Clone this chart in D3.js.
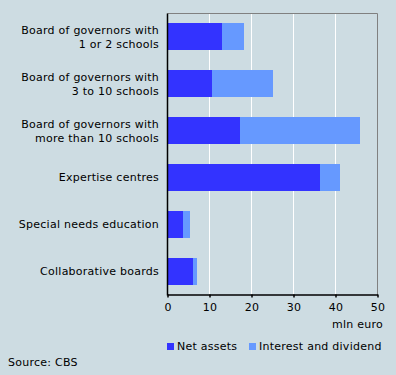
<!DOCTYPE html>
<html>
<head>
<meta charset="utf-8">
<script src="https://cdn.jsdelivr.net/npm/d3@7"></script>
<style>
  body { margin: 0; background: #cddce2; }
  svg { display: block; font-family: "DejaVu Sans", Verdana, sans-serif; }
  svg text { letter-spacing: 0.25px; }
</style>
</head>
<body>
<div id="chart"></div>
<script>
// data
const categories = [
  ['Board of governors with', '1 or 2 schools'],
  ['Board of governors with', '3 to 10 schools'],
  ['Board of governors with', 'more than 10 schools'],
  ['Expertise centres'],
  ['Special needs education'],
  ['Collaborative boards']
];
const netAssets = [13.0, 10.6, 17.3, 36.4, 3.7, 6.1];
const interestDividend = [5.3, 14.6, 28.6, 4.7, 1.7, 1.0];
const seriesNames = ['Net assets', 'Interest and dividend'];
const xTicks = [0, 10, 20, 30, 40, 50];

const colors = ['#3333ff', '#6699ff'];
const W = 396, H = 375;
const plot = { left: 167.5, right: 377.5, top: 13.5, bottom: 294.5 };

const svg = d3.select('#chart').append('svg')
  .attr('width', W).attr('height', H);

svg.append('rect').attr('width', W).attr('height', H).attr('fill', '#cddce2');

const x = d3.scaleLinear().domain([0, 50]).range([plot.left, plot.right]);
const y = d3.scaleBand().domain(d3.range(categories.length))
  .range([plot.top, plot.bottom]).paddingInner(0.42).paddingOuter(0.21);

// grid
svg.append('g').selectAll('line')
  .data(xTicks.slice(1, -1))
  .enter().append('line')
  .attr('x1', d => x(d)).attr('x2', d => x(d))
  .attr('y1', plot.top).attr('y2', plot.bottom)
  .attr('stroke', '#fff').attr('stroke-width', 1);

// frame top/right
svg.append('path')
  .attr('d', `M${plot.left},${plot.top}H${plot.right}V${plot.bottom}`)
  .attr('fill', 'none').attr('stroke', '#808080');

// stacked bars
const rows = categories.map((c, i) => ({ i, net: netAssets[i], inter: interestDividend[i] }));
const stack = d3.stack().keys(['net', 'inter'])(rows);
svg.append('g').selectAll('g')
  .data(stack)
  .enter().append('g')
  .attr('fill', (d, k) => colors[k])
  .selectAll('rect')
  .data(d => d)
  .enter().append('rect')
  .attr('x', d => x(d[0]))
  .attr('width', d => x(d[1]) - x(d[0]))
  .attr('y', d => y(d.data.i))
  .attr('height', y.bandwidth())
  .attr('shape-rendering', 'crispEdges');

// bottom axis
const xAxis = svg.append('g')
  .attr('transform', `translate(0,${plot.bottom})`)
  .call(d3.axisBottom(x).tickValues(xTicks).tickSize(3).tickSizeOuter(0).tickPadding(6));
xAxis.select('.domain').attr('stroke', '#000').attr('stroke-width', 1.5);
xAxis.selectAll('.tick line').attr('stroke', '#000').attr('stroke-width', 1.5);
xAxis.selectAll('text').attr('font-size', 11).attr('fill', '#000')
  .attr('font-family', '"DejaVu Sans", Verdana, sans-serif');

// left axis line
svg.append('line')
  .attr('x1', plot.left).attr('x2', plot.left)
  .attr('y1', plot.top).attr('y2', plot.bottom + 1)
  .attr('stroke', '#000').attr('stroke-width', 1.5);

// category labels
const labels = svg.append('g').attr('font-size', 11).attr('text-anchor', 'end').attr('fill', '#000');
categories.forEach((lines, i) => {
  const cy = y(i) + y.bandwidth() / 2;
  const t = labels.append('text')
    .attr('x', 159)
    .attr('y', cy + 4 - (lines.length - 1) * 6.5);
  lines.forEach((ln, j) => {
    t.append('tspan').attr('x', 159).attr('dy', j === 0 ? 0 : 13.5).text(ln);
  });
});

// unit
svg.append('text').attr('x', 383).attr('y', 328)
  .attr('text-anchor', 'end').attr('font-size', 11).text('mln euro');

// legend
const legendX = [167, 249];
const legend = svg.append('g');
seriesNames.forEach((name, k) => {
  legend.append('rect').attr('x', legendX[k]).attr('y', 343)
    .attr('width', 7).attr('height', 7).attr('fill', colors[k]);
  legend.append('text').attr('x', legendX[k] + 10).attr('y', 350)
    .attr('font-size', 11).text(name);
});

// source
svg.append('text').attr('x', 8).attr('y', 366).attr('font-size', 11).text('Source: CBS');
</script>
</body>
</html>
